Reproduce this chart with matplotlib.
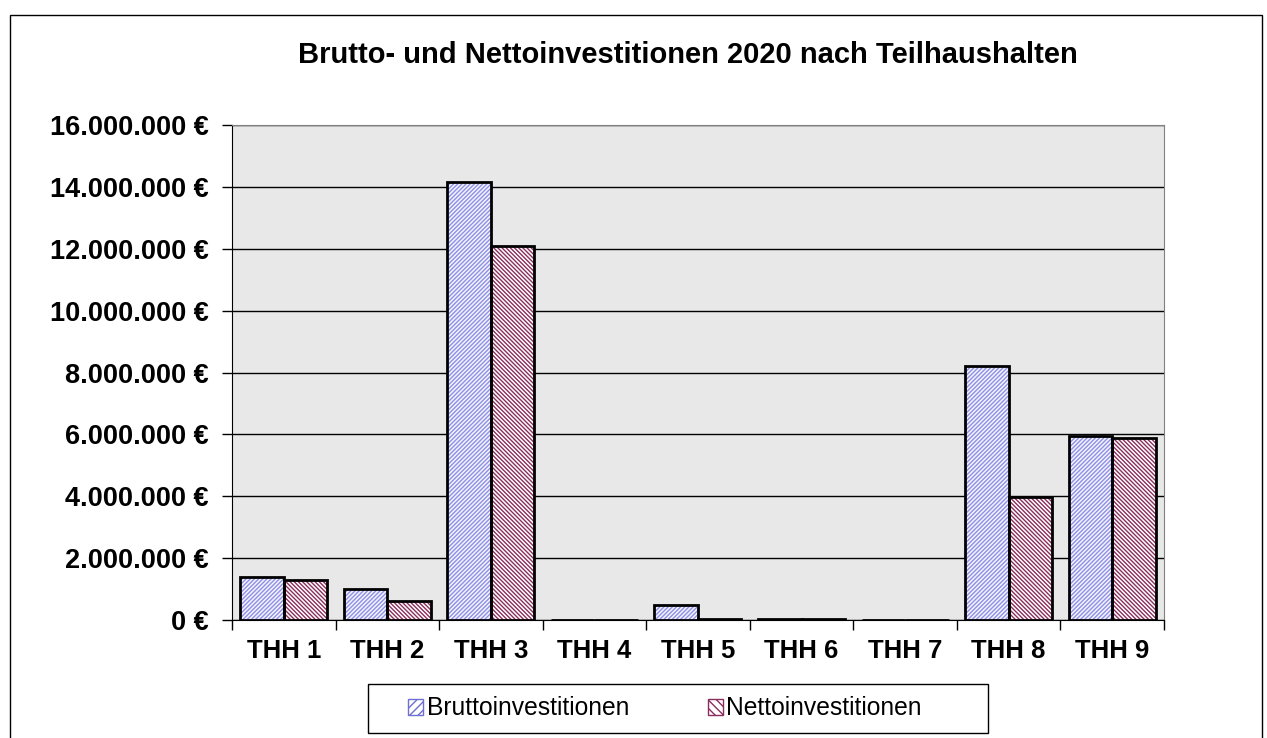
import numpy as np
import matplotlib.pyplot as plt
from matplotlib.patches import Patch, Rectangle
from matplotlib.ticker import FuncFormatter

kategorien = ["THH 1", "THH 2", "THH 3", "THH 4", "THH 5", "THH 6", "THH 7", "THH 8", "THH 9"]
brutto = [1390000, 1010000, 14160000, 0, 470000, 30000, 0, 8220000, 5950000]
netto = [1290000, 610000, 12090000, 0, 20000, 30000, 0, 3990000, 5880000]

plt.rcParams['font.family'] = ['Liberation Sans', 'DejaVu Sans']
plt.rcParams['hatch.linewidth'] = 1.0


def euro(v, pos):
    s = f"{int(round(v)):,}".replace(",", ".")
    return s + " €"


fig = plt.figure(figsize=(12.67, 7.38), dpi=100)
ax = fig.add_axes([0.1831, 0.1599, 0.7356, 0.6707])
ax.set_facecolor('#e8e8e8')

x = np.arange(len(kategorien))
b = 0.42
# hatch layer, then black outline on top
ax.bar(x - b / 2, brutto, b, facecolor='#f4f4ff', edgecolor='#8f8fe6', hatch='////////', linewidth=0, zorder=3)
ax.bar(x + b / 2, netto, b, facecolor='white', edgecolor='#8b2d5c', hatch='\\\\\\\\\\\\\\\\', linewidth=0, zorder=3)
ax.bar(x - b / 2, brutto, b, fill=False, edgecolor='black', linewidth=2, zorder=4)
ax.bar(x + b / 2, netto, b, fill=False, edgecolor='black', linewidth=2, zorder=4)

ax.set_ylim(0, 16000000)
ax.set_xlim(-0.5, len(kategorien) - 0.5)
ax.set_yticks(np.arange(0, 16000001, 2000000))
ax.yaxis.set_major_formatter(FuncFormatter(euro))
ax.yaxis.grid(True, color='black', linewidth=1)
ax.set_axisbelow(True)

ax.set_xticks(np.arange(-0.5, len(kategorien), 1))
ax.set_xticklabels([])
ax.set_xticks(x, minor=True)
ax.set_xticklabels(kategorien, minor=True)
ax.tick_params(axis='x', which='major', length=7, width=1, direction='out')
ax.tick_params(axis='x', which='minor', length=0, pad=14, labelsize=18.5)
ax.tick_params(axis='y', length=7, width=1, direction='out', pad=10, labelsize=19.5)
for lab in ax.get_xticklabels(minor=True) + ax.get_yticklabels():
    lab.set_fontweight('bold')

ax.spines['left'].set_color('black')
ax.spines['bottom'].set_color('black')
ax.spines['top'].set_color('#808080')
ax.spines['right'].set_color('#808080')

fig.text(0.543, 0.926, "Brutto- und Nettoinvestitionen 2020 nach Teilhaushalten",
         ha='center', va='center', fontsize=21, fontweight='bold')

handles = [Patch(facecolor='white', edgecolor='#6f6fd0', hatch='////', linewidth=1),
           Patch(facecolor='white', edgecolor='#8b2d5c', hatch='\\\\\\\\', linewidth=1)]
leg = fig.legend(handles, ["Bruttoinvestitionen", "Nettoinvestitionen"], loc='center',
                 bbox_to_anchor=(0.525, 0.04), ncol=2, fontsize=17.7, frameon=False,
                 handlelength=0.6, handleheight=0.6, handletextpad=0.15, columnspacing=3.2)

# legend frame and outer chart border
fig.patches.append(Rectangle((368 / 1267, (738 - 733) / 738), 620 / 1267, 49 / 738,
                             transform=fig.transFigure, fill=False, edgecolor='black', linewidth=1))
fig.patches.append(Rectangle((10 / 1267, -0.01), 1252 / 1267, (738 - 15) / 738 + 0.01,
                             transform=fig.transFigure, fill=False, edgecolor='black', linewidth=1))

fig.savefig("out.png", dpi=100)
